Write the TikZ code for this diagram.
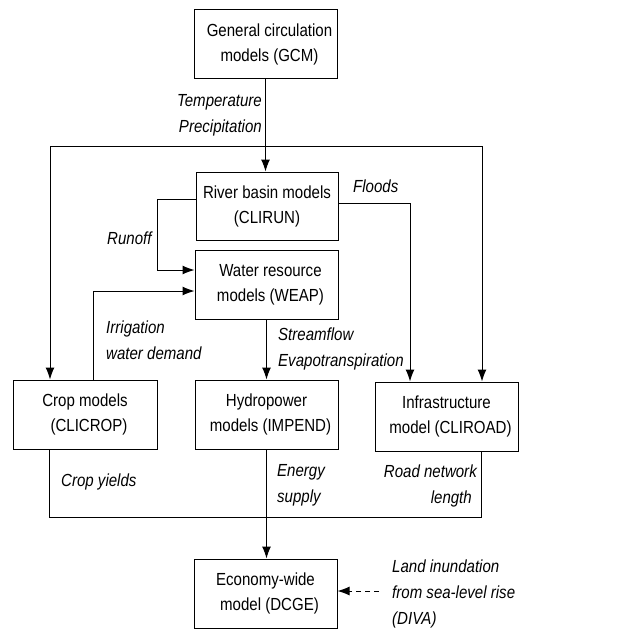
\documentclass[tikz,border=0pt]{standalone}
\usepackage{fontspec}
\setmainfont{Liberation Sans}[FakeStretch=0.86]
\usetikzlibrary{arrows.meta}
\begin{document}
\begin{tikzpicture}[x=1pt,y=-1pt,
  box/.style={draw,line width=1pt,minimum width=143pt,minimum height=69pt,inner sep=2pt,align=center,font=\fontsize{17.5}{25}\selectfont},
  lbl/.style={font=\fontsize{17.5}{26}\selectfont\itshape,inner sep=0pt},
  conn/.style={line width=1pt},
  arr/.style={conn,-{Latex[length=12pt,width=9pt]}}]
\useasboundingbox (0,0) rectangle (642,629);
\node[box] (gcm) at (265.5,44) {\hspace*{8pt}General circulation\\\hspace*{8pt}models (GCM)};
\node[box,minimum width=142pt,minimum height=68pt] (rb) at (267,206) {River basin models\\(CLIRUN)};
\node[box] (weap) at (266.5,284.5) {\hspace*{8pt}Water resource\\\hspace*{8pt}models (WEAP)};
\node[box,minimum width=144pt] (crop) at (85,414.5) {Crop models\\\hspace*{8pt}(CLICROP)};
\node[box] (hydro) at (266.5,414.5) {Hydropower\\\hspace*{8pt}models (IMPEND)};
\node[box] (infra) at (446.5,416.5) {Infrastructure\\\hspace*{8pt}model (CLIROAD)};
\node[box] (dcge) at (265.5,593.5) {Economy-wide\\\hspace*{8pt}model (DCGE)};
\coordinate (tl) at (50,146);
\coordinate (tr) at (482,146);
\coordinate (fx) at (410,0);
\coordinate (bl) at (49,517);
\coordinate (br) at (481,517);
\coordinate (dstart) at (379,591);
\draw[arr] (gcm.south) -- (gcm.south |- rb.north);
\draw[conn] (tl) -- (tr);
\draw[arr] (tl) -- (tl |- crop.north);
\draw[arr] (tr) -- (tr |- infra.north);
\draw[arr] ([yshift=3pt]rb.east) -| (infra.north -| fx);
\draw[arr] ([yshift=7pt]rb.west) -- ++(-38,0) |- ([yshift=14.5pt]weap.west);
\draw[arr] ([xshift=8pt]crop.north) |- ([yshift=-6.5pt]weap.west);
\draw[arr] (weap.south -| hydro.north) -- (hydro.north);
\draw[conn] (bl |- crop.south) -- (bl) -- (br) -- (br |- infra.south);
\draw[arr] (hydro.south) -- (hydro.south |- dcge.north);
\draw[arr,dash pattern=on 5pt off 4pt] (dstart) -- (dcge.east |- dstart);
\node[lbl,anchor=east,align=right] (tp) at (262,115.5) {Temperature\\Precipitation};
\node[lbl,anchor=west] (fl) at (353,186) {Floods};
\node[lbl,anchor=west] (ro) at (107,238) {Runoff};
\node[lbl,anchor=west,align=left] (ir) at (106,340) {Irrigation\\water demand};
\node[lbl,anchor=west,align=left] (se) at (278,349) {Streamflow\\Evapotranspiration};
\node[lbl,anchor=west] (cy) at (61,482) {Crop yields};
\node[lbl,anchor=west,align=left] (es) at (277,485) {Energy\\supply};
\node[lbl,anchor=east,align=right] (rn) at (477,486) {Road network\\length\hspace*{5pt}};
\node[lbl,anchor=west,align=left] (li) at (392,594) {Land inundation\\from sea-level rise\\(DIVA)};
\end{tikzpicture}
\end{document}
